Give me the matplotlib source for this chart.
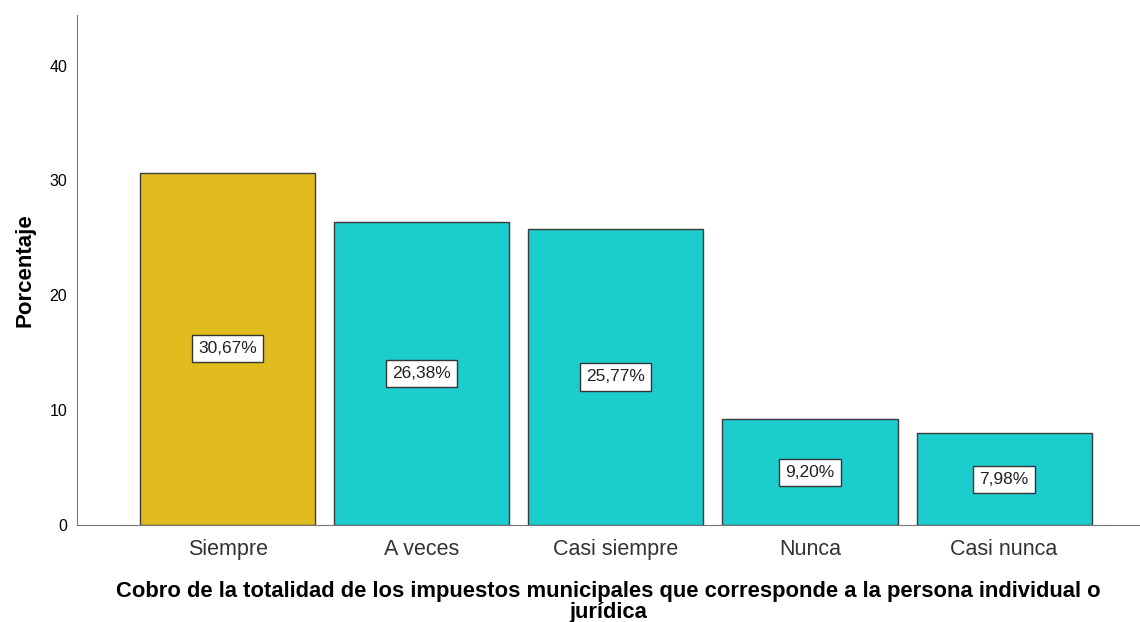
import matplotlib
matplotlib.use("Agg")
import matplotlib.pyplot as plt
import numpy as np

plt.rcParams['font.family'] = ['Liberation Sans', 'DejaVu Sans']

categorias = ["Siempre", "A veces", "Casi siempre", "Nunca", "Casi nunca"]
porcentajes = [30.67, 26.38, 25.77, 9.20, 7.98]
etiquetas = ["30,67%", "26,38%", "25,77%", "9,20%", "7,98%"]
colores = ["#E0BB1E", "#1CCDCD", "#1CCDCD", "#1CCDCD", "#1CCDCD"]

fig = plt.figure(figsize=(11.4, 6.22), dpi=100)
ax = fig.add_axes([77/1140, 1 - 525/622, (1140 - 77)/1140, (525 - 15)/622])

x = np.arange(len(categorias))
ax.bar(x, porcentajes, width=0.902, color=colores, edgecolor="#3a3a3a", linewidth=1.0)

for xi, v, t in zip(x, porcentajes, etiquetas):
    ax.text(xi, v / 2, t, ha="center", va="center", fontsize=12.5, color="#222222",
            bbox=dict(boxstyle="square,pad=0.35", facecolor="white", edgecolor="#333333", linewidth=1.0))

ax.set_xlim(-0.776, 4.70)
ax.set_ylim(0, 44.4)
ax.set_yticks([0, 10, 20, 30, 40])
ax.set_xticks(x)
ax.set_xticklabels(categorias, fontsize=15.5, color="#333333")
ax.tick_params(axis="y", labelsize=11.5, length=0, pad=7)
ax.tick_params(axis="x", length=0, pad=10)

for s in ["top", "right"]:
    ax.spines[s].set_visible(False)
ax.spines["left"].set_color("#777777")
ax.spines["bottom"].set_color("#777777")

ax.set_ylabel("Porcentaje", fontsize=16, fontweight="bold", labelpad=10)
ax.set_xlabel("Cobro de la totalidad de los impuestos municipales que corresponde a la persona individual o\njurídica",
              fontsize=15.8, fontweight="bold", labelpad=15, linespacing=1.02)

fig.savefig("out.png", dpi=100)
